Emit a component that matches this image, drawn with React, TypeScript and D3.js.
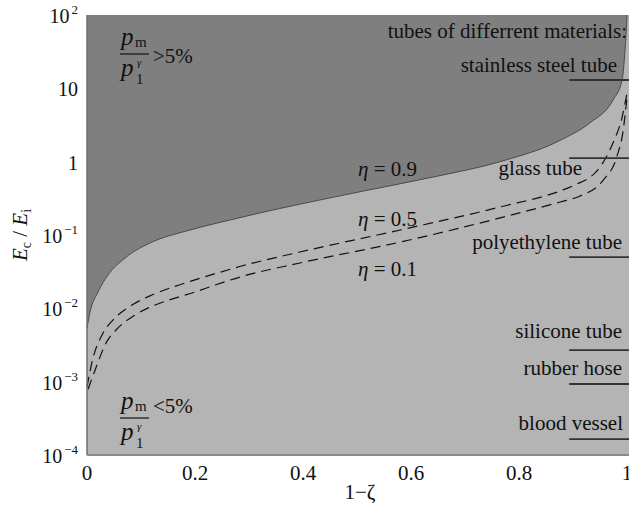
import * as d3 from "d3";

// boundary curve eta = 0.9 (solid, separates the two regions)
const eta09X = [0, 0.0056, 0.0204, 0.0389, 0.0704, 0.12, 0.181, 0.25, 0.32, 0.394, 0.519, 0.641, 0.765, 0.876, 0.931, 0.974, 0.991, 0.9963, 0.9996, 1.0];
const eta09Y = [0.0054, 0.0089, 0.0167, 0.0285, 0.0485, 0.08, 0.112, 0.151, 0.2, 0.263, 0.407, 0.617, 1.0, 1.95, 3.37, 6.9, 13, 33, 85, 100];

// eta = 0.5 (dashed)
const eta05X = [0, 0.0111, 0.0278, 0.0519, 0.0833, 0.12, 0.157, 0.194, 0.237, 0.283, 0.394, 0.58, 0.765, 0.876, 0.9, 0.95, 0.974, 0.991, 1.0];
const eta05Y = [0.00085, 0.0021, 0.00433, 0.00738, 0.0111, 0.0152, 0.0193, 0.0237, 0.0296, 0.0372, 0.0586, 0.117, 0.241, 0.398, 0.468, 0.845, 1.8, 4.06, 8.6];

// eta = 0.1 (dashed)
const eta01X = [0.002, 0.0185, 0.0333, 0.0574, 0.0889, 0.126, 0.163, 0.2, 0.237, 0.283, 0.394, 0.58, 0.765, 0.876, 0.913, 0.956, 0.981, 0.993, 1.0];
const eta01Y = [0.00079, 0.00169, 0.00316, 0.0054, 0.0081, 0.0111, 0.0138, 0.0167, 0.0208, 0.0267, 0.0415, 0.08, 0.171, 0.282, 0.34, 0.56, 1.16, 2.7, 7.6];

// tube materials, E_c/E_i
const materials = ["stainless steel tube", "glass tube", "polyethylene tube", "silicone tube", "rubber hose", "blood vessel"];
const materialE = [13, 1.12, 0.05, 0.0027, 0.00093, 0.000165];

const xTicks = [0, 0.2, 0.4, 0.6, 0.8, 1];
const xTickLabels = ["0", "0.2", "0.4", "0.6", "0.8", "1"];
const yTicks = [1e-4, 1e-3, 1e-2, 1e-1, 1, 10, 100];
const yTickBase = ["10", "10", "10", "10", "1", "10", "10"];
const yTickExp = ["−4", "−3", "−2", "−1", "", "", "2"];

const W = 629;
const H = 505;
const margin = { top: 15, right: 2, bottom: 50, left: 87 };

export default function App() {
  const x = d3.scaleLinear().domain([0, 1]).range([margin.left, 627]);
  const y = d3.scaleLog().domain([1e-4, 100]).range([H - margin.bottom, margin.top]);
  const font = "'Liberation Serif', 'Times New Roman', serif";

  const pts = (xs: number[], ys: number[]) => xs.map((v, i) => [v, ys[i]] as [number, number]);

  const darkArea = d3
    .area<[number, number]>()
    .x((d) => x(d[0]))
    .y0(margin.top)
    .y1((d) => y(d[1]))
    .curve(d3.curveMonotoneX)(pts(eta09X, eta09Y));

  const line = d3
    .line<[number, number]>()
    .x((d) => x(d[0]))
    .y((d) => y(d[1]))
    .curve(d3.curveMonotoneX);

  const fs = 21;

  return (
    <svg width={W} height={H} style={{ position: "absolute", left: 0, top: 0, background: "#fff" }} fontFamily={font}>
      {/* plot background */}
      <rect x={margin.left} y={margin.top} width={W - margin.left} height={H - margin.bottom - margin.top} fill="#b4b4b4" />
      <path d={darkArea || ""} fill="#7f7f7f" />
      <path d={line(pts(eta09X, eta09Y)) || ""} fill="none" stroke="#4a4a4a" strokeWidth={1} />
      <path d={line(pts(eta05X, eta05Y)) || ""} fill="none" stroke="#111" strokeWidth={1.2} strokeDasharray="10,6" />
      <path d={line(pts(eta01X, eta01Y)) || ""} fill="none" stroke="#111" strokeWidth={1.2} strokeDasharray="10,6" />

      {/* axis lines */}
      <line x1={margin.left} x2={margin.left} y1={margin.top} y2={H - margin.bottom} stroke="#6e6e6e" strokeWidth={1.5} />
      <line x1={margin.left} x2={W} y1={H - margin.bottom} y2={H - margin.bottom} stroke="#8a8a8a" strokeWidth={2} />

      {/* material markers */}
      {materials.map((m, i) => (
        <line key={m} x1={x(0.893)} x2={W} y1={y(materialE[i])} y2={y(materialE[i])} stroke="#333" strokeWidth={1.8} />
      ))}
      <g fontSize={fs} fill="#111">
        <text x={627} y={38} textAnchor="end">tubes of differrent materials:</text>
        <text x={617} y={72} textAnchor="end">{materials[0]}</text>
        <text x={582} y={175} textAnchor="end">{materials[1]}</text>
        <text x={622} y={249} textAnchor="end">{materials[2]}</text>
        <text x={622} y={338} textAnchor="end">{materials[3]}</text>
        <text x={622} y={375} textAnchor="end">{materials[4]}</text>
        <text x={623} y={430} textAnchor="end">{materials[5]}</text>
      </g>

      {/* eta labels */}
      <g fontSize={fs} fill="#111">
        <text x={358} y={176}><tspan fontStyle="italic">η</tspan> = 0.9</text>
        <text x={358} y={226}><tspan fontStyle="italic">η</tspan> = 0.5</text>
        <text x={358} y={276}><tspan fontStyle="italic">η</tspan> = 0.1</text>
      </g>

      {/* region labels: p_m / p_1^gamma */}
      {[
        { cy: 54, sym: ">5%", symY: 63 },
        { cy: 418, sym: "<5%", symY: 413 },
      ].map((r) => (
        <g key={r.sym} fill="#111">
          <text x={121} y={r.cy - 9} fontSize={25} fontStyle="italic">p</text>
          <text x={135} y={r.cy - 7} fontSize={15}>m</text>
          <line x1={120} x2={149} y1={r.cy} y2={r.cy} stroke="#111" strokeWidth={1.2} />
          <text x={121} y={r.cy + 22} fontSize={25} fontStyle="italic">p</text>
          <text x={137} y={r.cy + 12} fontSize={11} fontStyle="italic">γ</text>
          <text x={136} y={r.cy + 30} fontSize={15}>1</text>
          <text x={153} y={r.symY} fontSize={fs}>{r.sym}</text>
        </g>
      ))}

      {/* x ticks */}
      <g fontSize={fs} fill="#111" textAnchor="middle">
        {xTicks.map((t, i) => (
          <text key={t} x={x(t)} y={480}>{xTickLabels[i]}</text>
        ))}
        <text x={360} y={499}>1−ζ</text>
      </g>

      {/* y ticks */}
      <g fontSize={20} fill="#111" textAnchor="end">
        {yTicks.map((t, i) => (
          <text key={t} x={78} y={y(t) + 8}>
            {yTickBase[i]}
            {yTickExp[i] && (
              <tspan fontSize={13} dx={2} dy={-9}>{yTickExp[i]}</tspan>
            )}
          </text>
        ))}
      </g>

      {/* y label */}
      <text transform="translate(27,235) rotate(-90)" textAnchor="middle" fontSize={fs} fill="#111">
        <tspan fontStyle="italic">E</tspan>
        <tspan fontSize={14} dy={4}>c</tspan>
        <tspan dy={-4}> / </tspan>
        <tspan fontStyle="italic">E</tspan>
        <tspan fontSize={14} dy={4}>i</tspan>
      </text>
    </svg>
  );
}
